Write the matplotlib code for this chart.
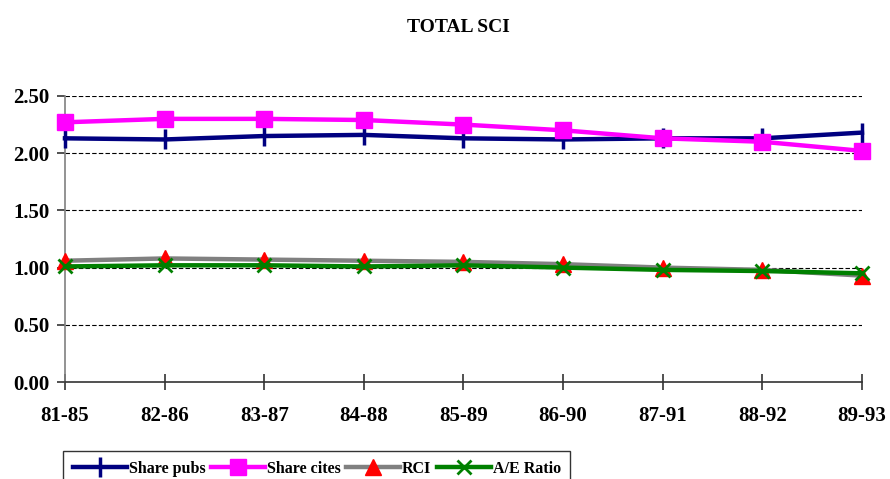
import matplotlib
matplotlib.use("Agg")
import matplotlib.pyplot as plt

periods = ["81-85", "82-86", "83-87", "84-88", "85-89", "86-90", "87-91", "88-92", "89-93"]
share_pubs = [2.13, 2.12, 2.15, 2.16, 2.13, 2.12, 2.13, 2.13, 2.18]
share_cites = [2.27, 2.30, 2.30, 2.29, 2.25, 2.20, 2.13, 2.10, 2.02]
rci = [1.06, 1.08, 1.07, 1.06, 1.05, 1.03, 1.00, 0.98, 0.93]
ae_ratio = [1.01, 1.02, 1.02, 1.01, 1.02, 1.00, 0.98, 0.97, 0.95]
y_ticks = [0.0, 0.5, 1.0, 1.5, 2.0, 2.5]

plt.rcParams["font.family"] = ["Liberation Serif", "DejaVu Serif"]
plt.rcParams["font.weight"] = "bold"

fig = plt.figure(figsize=(8.9, 4.79), dpi=100)
ax = fig.add_axes([0.073, 0.2025, 0.8955, 0.5971])

x = list(range(len(periods)))
ax.plot(x, share_pubs, color="#000080", lw=3.2, marker="|", ms=14, mew=2.5,
        label="Share pubs", clip_on=False, zorder=3)
ax.plot(x, share_cites, color="#FF00FF", lw=3.2, marker="s", ms=11,
        label="Share cites", clip_on=False, zorder=4)
ax.plot(x, rci, color="#808080", lw=3.2, marker="^", ms=11, mfc="#FF0000", mec="#FF0000",
        label="RCI", clip_on=False, zorder=5)
ax.plot(x, ae_ratio, color="#008000", lw=3.2, marker="x", ms=10, mew=2,
        label="A/E Ratio", clip_on=False, zorder=6)

ax.set_xlim(0, len(periods) - 1)
ax.set_ylim(0, 2.5)
ax.set_xticks(x)
ax.set_xticklabels(periods)
ax.set_yticks(y_ticks)
ax.set_yticklabels([f"{v:.2f}" for v in y_ticks])
ax.tick_params(axis="x", direction="inout", length=12, width=1.2, colors="#333333",
               labelcolor="black", labelsize=15, pad=11)
ax.tick_params(axis="y", direction="out", length=6, width=1.2, colors="#333333",
               labelcolor="black", labelsize=15, pad=5)

for v in y_ticks[1:]:
    ax.axhline(v, color="black", lw=0.8, ls=(0, (4, 2)), zorder=1)

for s in ["top", "right"]:
    ax.spines[s].set_visible(False)
ax.spines["left"].set_color("#808080")
ax.spines["left"].set_linewidth(1.2)
ax.spines["bottom"].set_color("#333333")
ax.spines["bottom"].set_linewidth(1.2)

fig.text(0.515, 0.942, "TOTAL SCI", ha="center", va="center", fontsize=14, fontweight="bold")

leg = fig.legend(loc="upper left", bbox_to_anchor=(0.071, 0.0585), ncol=4,
                 frameon=True, fancybox=False, edgecolor="black",
                 prop={"size": 11.5, "weight": "bold"}, handlelength=3.4,
                 handletextpad=0.1, columnspacing=0.35, borderpad=0.6,
                 borderaxespad=0)
leg.get_frame().set_linewidth(1.0)

fig.savefig("out.png", dpi=100)
